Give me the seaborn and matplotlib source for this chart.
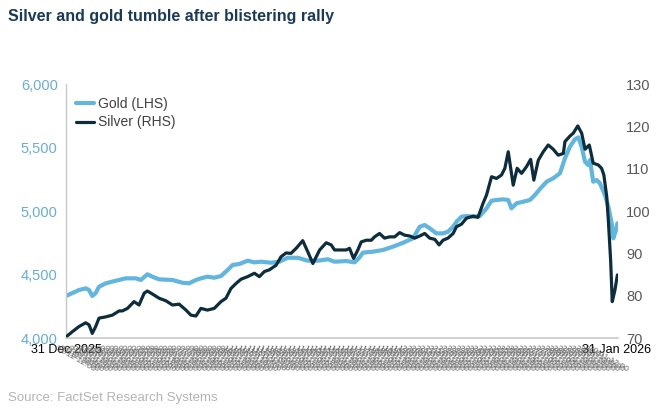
import matplotlib
matplotlib.use("Agg")
import matplotlib.pyplot as plt
import numpy as np
import pandas as pd
import seaborn as sns

sns.set_theme(style="white")
plt.rcParams["font.family"] = ["Liberation Sans", "DejaVu Sans"]

# days elapsed since 31 Dec 2025
gold_days = [0.00, 0.36, 0.73, 1.11, 1.30, 1.48, 1.67, 1.86, 2.24, 2.80, 3.36, 3.93, 4.21, 4.58,
             4.86, 5.24, 5.99, 6.56, 6.93, 7.31, 7.59, 7.96, 8.34, 8.72, 9.09, 9.37, 9.75, 10.22,
             10.60, 10.97, 11.54, 12.01, 12.47, 13.04, 13.60, 14.17, 14.73, 15.11, 15.77, 16.24,
             16.52, 16.70, 17.27, 17.83, 18.39, 18.96, 19.52, 19.90, 20.18, 20.46, 20.84, 21.21,
             21.49, 21.78, 21.97, 22.25, 22.53, 22.90, 23.28, 23.66, 23.94, 24.22, 24.59, 24.88,
             25.06, 25.35, 25.72, 26.10, 26.38, 26.66, 27.04, 27.41, 27.79, 28.07, 28.35, 28.63,
             28.82, 29.01, 29.20, 29.38, 29.48, 29.66, 29.86, 30.04, 30.32, 30.51, 30.70, 30.79,
             30.94, 31.02]
gold = [4331, 4354, 4378, 4391, 4378, 4331, 4354, 4404, 4431, 4451, 4470, 4470, 4457, 4502,
        4483, 4462, 4457, 4435, 4431, 4457, 4470, 4483, 4475, 4488, 4535, 4575, 4583, 4609,
        4596, 4601, 4593, 4601, 4632, 4632, 4609, 4609, 4620, 4601, 4606, 4596,
        4635, 4672, 4680, 4693, 4719, 4750, 4785, 4876, 4890, 4864, 4824, 4824,
        4837, 4876, 4916, 4955, 4961, 4955, 4961, 5021, 5081, 5087, 5092, 5087,
        5021, 5061, 5073, 5087, 5126, 5173, 5231, 5258, 5297, 5415, 5506, 5565,
        5580, 5506, 5388, 5362, 5402, 5231, 5244, 5218, 5126, 5034, 4903, 4785,
        4850, 4903]

silver_days = [0.07, 0.36, 0.73, 1.11, 1.30, 1.48, 1.67, 1.86, 2.24, 2.61, 2.99, 3.17, 3.46, 3.83,
               4.11, 4.40, 4.58, 4.86, 5.24, 5.62, 5.99, 6.37, 6.75, 7.03, 7.31, 7.59, 7.96, 8.34,
               8.72, 9.00, 9.28, 9.57, 9.85, 10.22, 10.60, 10.88, 11.16, 11.44, 11.82, 12.10,
               12.38, 12.66, 12.95, 13.32, 13.60, 13.89, 14.27, 14.64, 14.92, 15.11, 15.39, 15.77,
               15.95, 16.18, 16.42, 16.61, 16.89, 17.18, 17.36, 17.64, 17.92, 18.21, 18.49, 18.77,
               19.05, 19.34, 19.62, 19.90, 20.18, 20.46, 20.75, 20.99, 21.21, 21.49, 21.78, 21.97,
               22.25, 22.53, 22.90, 23.18, 23.46, 23.66, 23.94, 24.22, 24.50, 24.69, 24.88, 25.16,
               25.38, 25.63, 25.91, 26.14, 26.32, 26.57, 26.85, 27.13, 27.41, 27.69, 27.98, 28.07,
               28.35, 28.54, 28.79, 29.01, 29.20, 29.44, 29.66, 29.94, 30.13, 30.26, 30.42, 30.51,
               30.64, 30.73, 30.88, 31.02]
silver = [70.5, 71.5, 72.7, 73.6, 73.1, 71.1, 72.7, 74.7, 75.0, 75.4, 76.4, 76.4, 77.0, 78.6,
          77.8, 80.6, 81.1, 80.4, 79.4, 78.8, 77.8, 78.0, 76.6, 75.4, 75.2, 77.0, 76.6, 77.0,
          78.6, 79.4, 81.7, 82.9, 83.9, 84.5, 85.3, 84.5, 85.7, 86.1, 87.2, 89.2,
          90.1, 90.0, 91.2, 93.0, 90.4, 87.6, 90.8, 92.5, 92.0, 90.8, 90.8, 90.8,
          91.2, 88.8, 90.8, 92.7, 93.1, 93.1, 93.9, 94.7, 93.6, 93.9, 93.9, 94.9,
          94.3, 94.1, 93.6, 94.1, 94.7, 93.6, 93.3, 92.0, 93.1, 93.6, 94.7, 96.3,
          96.9, 98.3, 98.8, 98.5, 101.8, 103.8, 108.1, 107.7, 108.5, 110.1, 114.0, 106.1,
          110.1, 108.9, 110.5, 112.2, 107.3, 112.0, 114.0, 115.6, 114.6, 113.2, 113.6, 116.4,
          117.7, 118.4, 120.1, 118.4, 114.6, 115.6, 111.3, 110.9, 110.1, 108.5, 103.4, 97.9,
          88.4, 78.6, 81.3, 84.9]

end_labels = ["31 Dec 2025", "31 Jan 2026"]
# the overlapping intraday date stamps along the axis
stamp_times = pd.date_range("2025-12-31 12:00", "2026-01-30 12:00", freq="6h")

GOLD_C = "#62b5dc"
SILVER_C = "#0d2d3d"

df_gold = pd.DataFrame({"day": gold_days, "value": gold})
df_silver = pd.DataFrame({"day": silver_days, "value": silver})

fig = plt.figure(figsize=(6.65, 4.15), dpi=100)
ax = fig.add_axes([0.0992, 0.1855, 0.83, 0.612])
ax2 = ax.twinx()

sns.lineplot(data=df_gold, x="day", y="value", ax=ax, color=GOLD_C, lw=3.0, label="Gold (LHS)", legend=False)
sns.lineplot(data=df_silver, x="day", y="value", ax=ax2, color=SILVER_C, lw=2.3, label="Silver (RHS)", legend=False)

ax.set_xlim(0, 31.05)
ax.set_ylim(4000, 6000)
ax2.set_ylim(70, 130)
ax.set_yticks([4000, 4500, 5000, 5500, 6000])
ax.set_yticklabels(["4,000", "4,500", "5,000", "5,500", "6,000"])
ax2.set_yticks([70, 80, 90, 100, 110, 120, 130])
ax.set_xlabel("")
ax.set_ylabel("")
ax2.set_ylabel("")

ax.set_xticks([0, 31])
ax.set_xticklabels(end_labels, fontsize=9, color="black")
stamp_days = (stamp_times - pd.Timestamp("2025-12-31")) / pd.Timedelta(days=1)
ax.set_xticks(stamp_days, minor=True)
ax.set_xticklabels([t.strftime("%d/%m %H:%M") for t in stamp_times], minor=True,
                   rotation=-30, fontsize=6, color="#666666", ha="center")
ax.tick_params(axis="x", which="both", length=0, pad=4)
ax.tick_params(axis="x", which="minor", pad=5)

ax.tick_params(axis="y", length=0, labelsize=10.5, labelcolor="#6aaed2", pad=6)
ax2.tick_params(axis="y", length=0, labelsize=10.5, labelcolor="#595959", pad=6)

for a in (ax, ax2):
    for s in ("top", "right", "left", "bottom"):
        a.spines[s].set_visible(False)
ax.spines["left"].set_visible(True)
ax.spines["bottom"].set_visible(True)
ax.spines["left"].set_color("#c8c8c8")
ax.spines["bottom"].set_color("#c8c8c8")
ax.spines["left"].set_linewidth(1.0)
ax.spines["bottom"].set_linewidth(1.2)

h1, l1 = ax.get_legend_handles_labels()
h2, l2 = ax2.get_legend_handles_labels()
leg = ax2.legend(h1 + h2, l1 + l2, loc="upper left", bbox_to_anchor=(-0.005, 1.0), frameon=False,
                 fontsize=10, handlelength=1.3, handletextpad=0.3, labelspacing=0.35, borderaxespad=0.5)
for t in leg.get_texts():
    t.set_color("#404040")

fig.text(0.012, 0.96, "Silver and gold tumble after blistering rally", fontsize=11.5,
         fontweight="bold", color="#1b3a57", ha="left", va="center")
fig.text(0.012, 0.04, "Source: FactSet Research Systems", fontsize=9.5, color="#b4b4b4",
         ha="left", va="center")

fig.savefig("out.png", dpi=100)
